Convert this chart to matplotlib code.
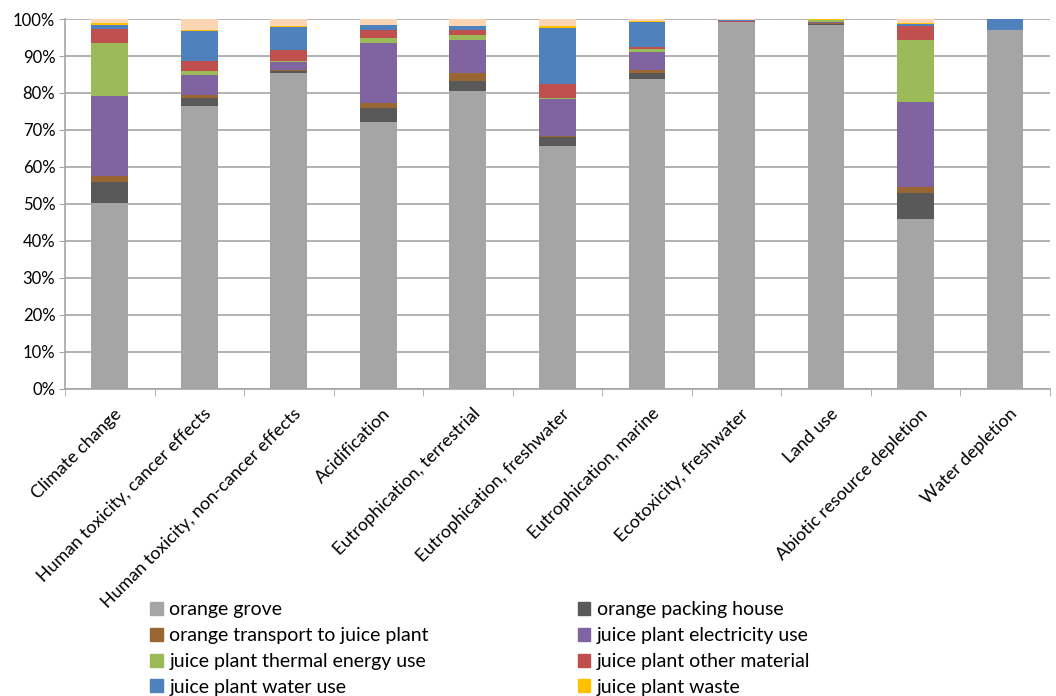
import numpy as np
import matplotlib.pyplot as plt
from matplotlib.patches import Patch
from matplotlib.transforms import ScaledTranslation

plt.rcParams['font.family'] = ['Lato', 'DejaVu Sans']

categories = ['Climate change', 'Human toxicity, cancer effects',
              'Human toxicity, non-cancer effects', 'Acidification',
              'Eutrophication, terrestrial', 'Eutrophication, freshwater',
              'Eutrophication, marine', 'Ecotoxicity, freshwater', 'Land use',
              'Abiotic resource depletion', 'Water depletion']

# shares per impact category, percent
orange_grove = [50.2, 76.6, 85.5, 72.2, 80.5, 65.8, 83.7, 99.3, 98.5, 45.9, 97.0]
packing_house = [5.7, 2.0, 0.5, 3.8, 2.7, 2.2, 1.6, 0.0, 0.1, 7.2, 0.0]
transport = [1.7, 0.9, 0.3, 1.3, 2.2, 0.3, 1.0, 0.0, 0.3, 1.6, 0.0]
electricity = [21.7, 5.4, 2.1, 16.1, 9.0, 10.1, 4.9, 0.0, 0.4, 23.0, 0.0]
thermal = [14.2, 1.0, 0.2, 1.6, 1.4, 0.2, 0.7, 0.0, 0.3, 16.7, 0.0]
other_material = [3.7, 2.7, 3.1, 2.1, 1.3, 3.9, 0.6, 0.1, 0.1, 3.6, 0.0]
water_use = [1.3, 8.2, 6.2, 1.2, 0.9, 15.2, 6.8, 0.4, 0.1, 0.7, 3.0]
waste = [0.4, 0.1, 0.1, 0.1, 0.1, 0.3, 0.1, 0.0, 0.1, 0.1, 0.0]
packaging = [1.1, 3.1, 2.0, 1.6, 1.9, 2.0, 0.6, 0.2, 0.1, 1.2, 0.0]

series = [
    ('orange grove', orange_grove, '#A5A5A5'),
    ('orange packing house', packing_house, '#595959'),
    ('orange transport to juice plant', transport, '#996633'),
    ('juice plant electricity use', electricity, '#8064A2'),
    ('juice plant thermal energy use', thermal, '#9BBB59'),
    ('juice plant other material', other_material, '#C0504D'),
    ('juice plant water use', water_use, '#4F81BD'),
    ('juice plant waste', waste, '#FFC000'),
    ('', packaging, '#FCD5B5'),
]

fig = plt.figure(figsize=(10.56, 6.96), dpi=100)
ax = fig.add_axes([0.0616, 0.4411, 0.9324, 0.5316])

x = np.arange(len(categories))
bottom = np.zeros(len(categories))
for name, vals, col in series:
    vals = np.array(vals)
    ax.bar(x, vals, 0.41, bottom=bottom, color=col, edgecolor='none', zorder=3)
    bottom += vals

ax.set_xlim(-0.5, len(categories) - 0.5)
ax.set_ylim(0, 100)
ax.set_yticks(np.arange(0, 101, 10))
ax.set_yticklabels([f'{v}%' for v in range(0, 101, 10)], fontsize=12)
ax.yaxis.grid(True, color='#A6A6A6', linewidth=1.2, zorder=0)
ax.tick_params(axis='y', length=4, color='#A6A6A6', pad=3)

ax.set_xticks(x)
ax.set_xticklabels(categories, rotation=45, ha='right', rotation_mode='anchor',
                   fontsize=12.8)
ax.tick_params(axis='x', which='major', length=0, pad=12)
shift = ScaledTranslation(4 / 100, 0, fig.dpi_scale_trans)
for lbl in ax.get_xticklabels():
    lbl.set_transform(lbl.get_transform() + shift)
ax.set_xticks(np.arange(-0.5, len(categories), 1), minor=True)
ax.tick_params(axis='x', which='minor', length=5, color='#A6A6A6')

for side in ['top', 'right']:
    ax.spines[side].set_visible(False)
for side in ['left', 'bottom']:
    ax.spines[side].set_color('#A6A6A6')
    ax.spines[side].set_linewidth(1.2)

handles = [Patch(color=col, label=name) for name, vals, col in series if name]
legend_kw = dict(loc='upper left', frameon=False, fontsize=14, handlelength=0.65,
                 handleheight=0.65, handletextpad=0.35, labelspacing=0.45,
                 borderaxespad=0, borderpad=0)
leg1 = fig.legend([handles[i] for i in (0, 2, 4, 6)],
                  [handles[i].get_label() for i in (0, 2, 4, 6)],
                  bbox_to_anchor=(0.142, 0.136), **legend_kw)
fig.legend([handles[i] for i in (1, 3, 5, 7)],
           [handles[i].get_label() for i in (1, 3, 5, 7)],
           bbox_to_anchor=(0.547, 0.136), **legend_kw)

fig.savefig('out.png', dpi=100)
